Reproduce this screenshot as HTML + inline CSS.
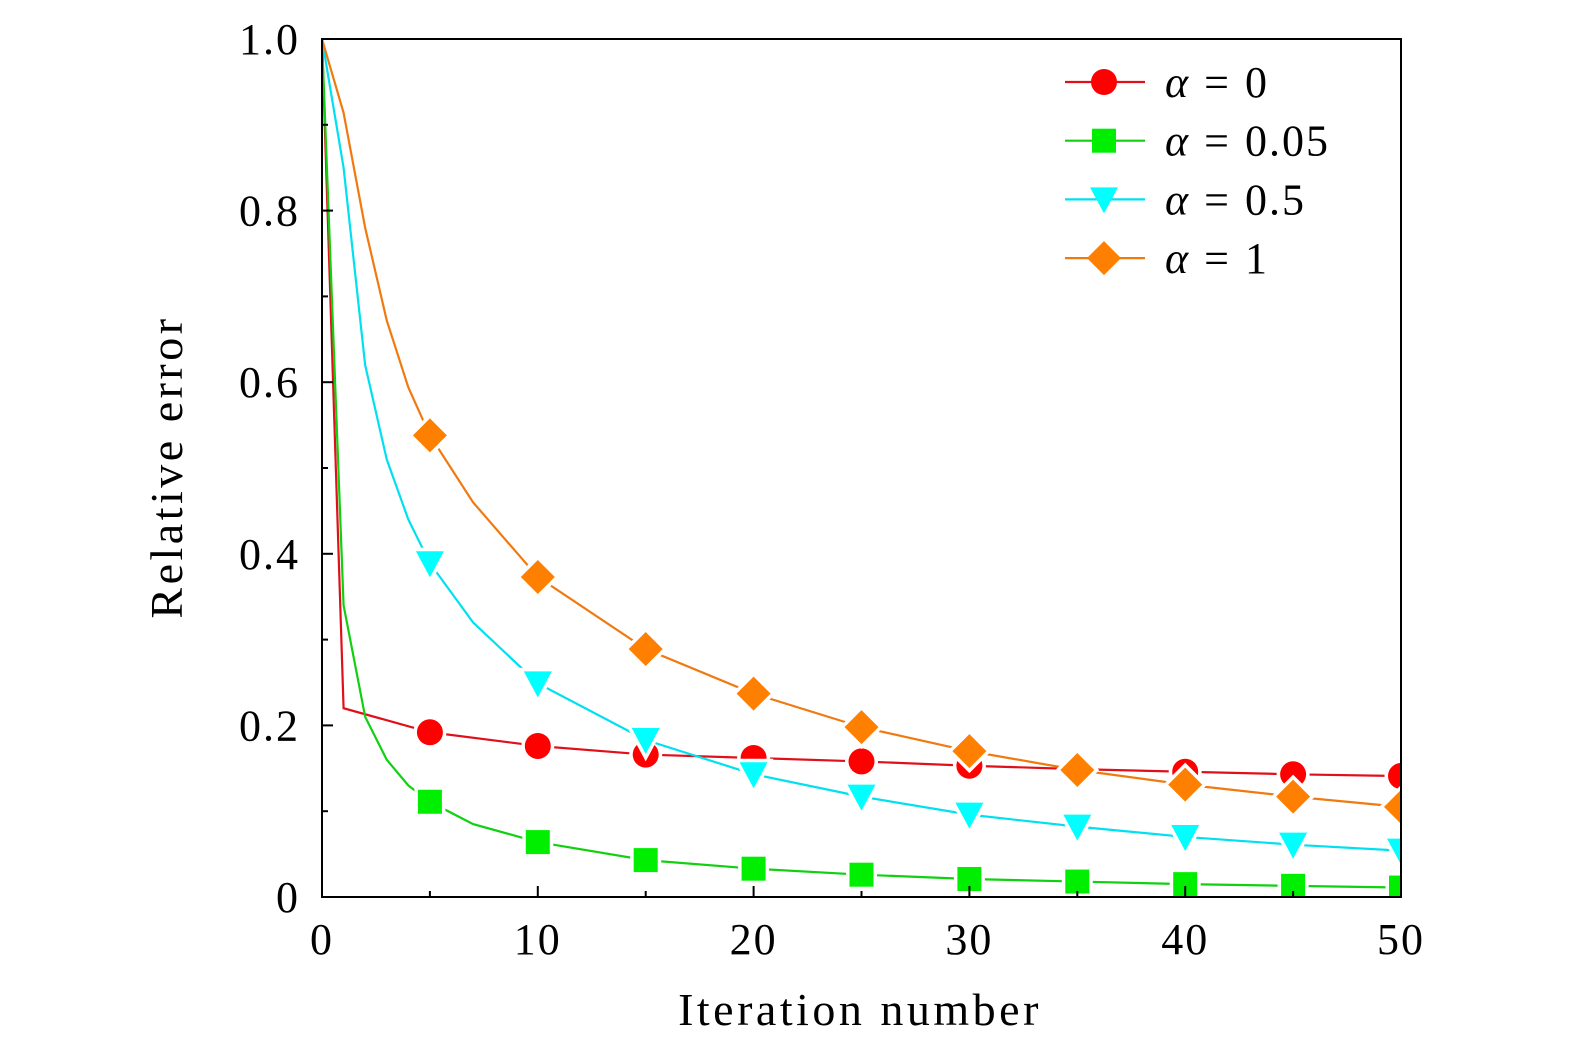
<!DOCTYPE html>
<html><head><meta charset="utf-8"><style>
html,body{margin:0;padding:0;background:#fff;}
svg text{font-family:"Liberation Serif",serif;fill:#000;}
</style></head><body>
<svg id="chart" width="1575" height="1053" viewBox="0 0 1575 1053" xmlns="http://www.w3.org/2000/svg">
<defs><clipPath id="clip"><rect x="322" y="38" width="1080" height="860"/></clipPath></defs>
<g id="plot" clip-path="url(#clip)"></g>
<rect x="322" y="39" width="1079" height="858" fill="none" stroke="#000" stroke-width="2"/>
<g id="ticks"></g>
<text x="860" y="1025" font-size="46" text-anchor="middle" letter-spacing="3.5">Iteration number</text>
<text transform="translate(182,467) rotate(-90)" font-size="46" text-anchor="middle" letter-spacing="3.5">Relative error</text>
<g id="legend"></g>
</svg>
<script>
const xTicks=[0,10,20,30,40,50];
const yTicks=[0,0.2,0.4,0.6,0.8,1.0];
const yTickLabels=["0","0.2","0.4","0.6","0.8","1.0"];
const redX=[0,1,5,10,15,20,25,30,35,40,45,50];
const redY=[1.0,0.22,0.192,0.176,0.166,0.162,0.158,0.153,0.149,0.146,0.143,0.141];
const greenX=[0,1,2,3,4,5,7,10,15,20,25,30,35,40,45,50];
const greenY=[1.0,0.34,0.21,0.16,0.13,0.111,0.085,0.064,0.043,0.033,0.026,0.021,0.018,0.015,0.013,0.011];
const cyanX=[0,1,2,3,4,5,7,10,15,20,25,30,35,40,45,50];
const cyanY=[1.0,0.85,0.62,0.51,0.44,0.389,0.32,0.249,0.183,0.143,0.117,0.096,0.082,0.07,0.061,0.054];
const orangeX=[0,1,2,3,4,5,7,10,15,20,25,30,35,40,45,50];
const orangeY=[1.0,0.914,0.78,0.672,0.594,0.538,0.46,0.373,0.289,0.237,0.198,0.17,0.148,0.131,0.117,0.105];
const markerX=[5,10,15,20,25,30,35,40,45,50];

const NS="http://www.w3.org/2000/svg";
const sx=v=>322+v*(1401-322)/50;
const sy=v=>897-v*858;
function mk(tag,attrs,parent){const e=document.createElementNS(NS,tag);for(const k in attrs)e.setAttribute(k,attrs[k]);parent.appendChild(e);return e;}
const gT=document.getElementById('ticks');
xTicks.forEach((t,i)=>{
  const l=mk('line',{x1:sx(t),x2:sx(t),y1:897,y2:886,stroke:'#000','stroke-width':2},gT);
  
  
  if(i<xTicks.length-1){const m=mk('line',{x1:sx(t+5),x2:sx(t+5),y1:897,y2:891,stroke:'#000','stroke-width':2},gT);
  
  }
  const tx=mk('text',{x:sx(t),y:954,'font-size':44,'text-anchor':'middle','letter-spacing':2},gT);tx.textContent=t;
  
  
});
yTicks.forEach((t,i)=>{
  const l=mk('line',{x1:322,x2:333,y1:sy(t),y2:sy(t),stroke:'#000','stroke-width':2},gT);
  
  
  if(i<yTicks.length-1){const m=mk('line',{x1:322,x2:328,y1:sy(t+0.1),y2:sy(t+0.1),stroke:'#000','stroke-width':2},gT);
  
  }
  const tx=mk('text',{x:300,y:sy(t)+15,'font-size':44,'text-anchor':'end','letter-spacing':2},gT);tx.textContent=yTickLabels[i];
  
  
});
function marker(shape,x,y,fill,parent,halo){
  const sw=halo?7:0, st=halo?'#fff':'none', f=halo?'#fff':fill;
  let e;
  if(shape==='circle')e=mk('circle',{cx:x,cy:y,r:13,fill:f,stroke:st,'stroke-width':sw},parent);
  else if(shape==='square')e=mk('rect',{x:x-12,y:y-12,width:24,height:24,fill:f,stroke:st,'stroke-width':sw},parent);
  else if(shape==='tri')e=mk('polygon',{points:`${x-14},${y-12} ${x+14},${y-12} ${x},${y+14}`,fill:f,stroke:st,'stroke-width':sw},parent);
  else e=mk('polygon',{points:`${x},${y-17} ${x+17},${y} ${x},${y+17} ${x-17},${y}`,fill:f,stroke:st,'stroke-width':sw},parent);
  return e;
}
const series=[
 {name:'alpha-0',X:redX,Y:redY,line:'#e0101a',fill:'#ff0000',shape:'circle',label:'0'},
 {name:'alpha-0.05',X:greenX,Y:greenY,line:'#10d010',fill:'#00ee00',shape:'square',label:'0.05'},
 {name:'alpha-0.5',X:cyanX,Y:cyanY,line:'#00e0f0',fill:'#00ffff',shape:'tri',label:'0.5'},
 {name:'alpha-1',X:orangeX,Y:orangeY,line:'#f07a10',fill:'#ff8000',shape:'diamond',label:'1'}
];
const gP=document.getElementById('plot'),gLeg=document.getElementById('legend');
const interp=(X,Y,x)=>{for(let i=0;i<X.length-1;i++)if(x>=X[i]&&x<=X[i+1])return Y[i]+(Y[i+1]-Y[i])*(x-X[i])/(X[i+1]-X[i]);return Y[Y.length-1];};
series.forEach((s,si)=>{
  const g=mk('g',{},gP);
  
  
  const p=mk('polyline',{points:s.X.map((x,i)=>sx(x)+','+sy(s.Y[i])).join(' '),fill:'none',stroke:s.line,'stroke-width':2.2},g);
  
  
  markerX.forEach(x=>{
    const y=interp(s.X,s.Y,x);
    marker(s.shape,sx(x),sy(y),s.fill,g,true);
    const m=marker(s.shape,sx(x),sy(y),s.fill,g,false);
    
    
  });
  const ly=82+si*58.7;
  const ll=mk('line',{x1:1065,x2:1145,y1:ly,y2:ly,stroke:s.line,'stroke-width':2.2},gLeg);
  
  
  const lm=marker(s.shape,1104,ly,s.fill,gLeg,false);
  
  
  const t=mk('text',{x:1165,y:ly+15,'font-size':44,'letter-spacing':2,'xml:space':'preserve'},gLeg);
  
  
  t.innerHTML='<tspan font-style="italic">α</tspan><tspan dx="14">=</tspan><tspan dx="14">'+s.label+'</tspan>';
});
</script>
</body></html>
